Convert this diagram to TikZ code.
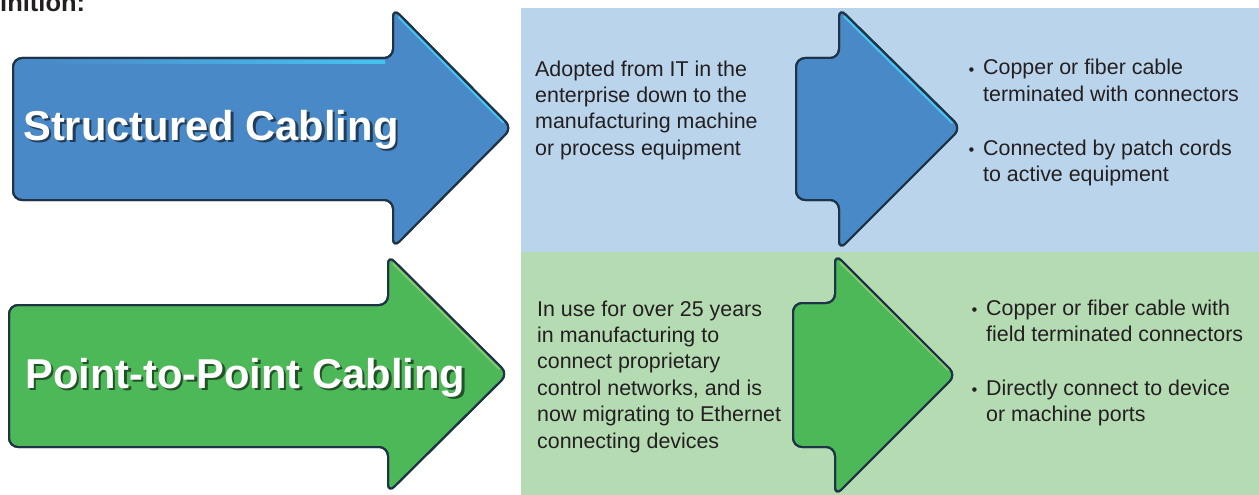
\documentclass[tikz,border=0pt]{standalone}
\usepackage{fontspec}
\setmainfont{Liberation Sans}
\definecolor{bluepanel}{HTML}{BAD4EC}
\definecolor{greenpanel}{HTML}{B5DBB3}
\definecolor{bluearrow}{HTML}{4A89C7}
\definecolor{greenarrow}{HTML}{4DB857}
\definecolor{outlinec}{HTML}{1E3446}
\definecolor{txt}{HTML}{231F20}
\definecolor{cyanhl}{HTML}{45C4F0}
\definecolor{greenhl}{HTML}{86C772}
\tikzset{
  arrowshape/.style={draw=outlinec, line width=2pt, rounded corners=9pt, line join=round},
  bodytext/.style={font=\fontsize{21.4}{26.4}\selectfont, text=txt, align=left, anchor=base west, inner sep=0pt},
  bullettext/.style={font=\fontsize{16.5}{16.5}\selectfont, text=txt, anchor=base west, inner sep=0pt},
  bigtext/.style={font=\bfseries\fontsize{41.7}{50}\selectfont, text=white, anchor=base west, inner sep=0pt},
  bigshadow/.style={font=\bfseries\fontsize{41.7}{50}\selectfont, text=black, text opacity=0.55, anchor=base west, inner sep=0pt},
  edgehl/.style={line width=2pt, line cap=round},
}
\begin{document}
\begin{tikzpicture}[x=1pt,y=-1pt]
\useasboundingbox (0,0) rectangle (1259,495);
% panels
\fill[bluepanel] (521,8) rectangle (1259,252);
\fill[greenpanel] (521,252) rectangle (1259,495);
% title fragment
\node[font=\bfseries\fontsize{25.5}{30}\selectfont, text=txt, anchor=base west, inner sep=0pt] (title) at (0,12) {inition:};
% big blue arrow
\path[arrowshape, fill=bluearrow] (13,58) -- (393,58) -- (393,8) -- (512,128) -- (393,248) -- (393,200) -- (13,200) -- cycle;
\shade[left color=bluearrow, middle color=white, right color=cyanhl] (40,61) rectangle (385,63.5);
\draw[edgehl, cyanhl] (398.5,17) -- (503.2,122.5);
\draw[draw=outlinec, line width=2pt, rounded corners=9pt, line join=round] (13,58) -- (393,58) -- (393,8) -- (512,128) -- (393,248) -- (393,200) -- (13,200) -- cycle;
\node[bigshadow] (s1) at (25.5,142.5) {Structured Cabling};
\node[bigtext] (t1) at (23,140) {Structured Cabling};
% big green arrow
\path[arrowshape, fill=greenarrow] (9,305) -- (388,305) -- (388,255) -- (508,374) -- (388,493) -- (388,447) -- (9,447) -- cycle;
\shade[left color=greenarrow, middle color=yellow!55!white, right color=greenarrow] (100,308) rectangle (300,310.5);
\draw[edgehl, greenhl] (393.3,263.8) -- (499.1,368.8);
\draw[draw=outlinec, line width=2pt, rounded corners=9pt, line join=round] (9,305) -- (388,305) -- (388,255) -- (508,374) -- (388,493) -- (388,447) -- (9,447) -- cycle;
\node[bigshadow] (s2) at (27.5,390.5) {Point-to-Point Cabling};
\node[bigtext] (t2) at (25,388) {Point-to-Point Cabling};
% small blue arrow
\path[arrowshape, fill=bluearrow] (796,58) -- (839,58) -- (839,8) -- (961,128) -- (839,250) -- (839,200) -- (796,200) -- cycle;
\draw[edgehl, cyanhl] (844.4,16.8) -- (952.1,122.8);
\draw[draw=outlinec, line width=2pt, rounded corners=9pt, line join=round] (796,58) -- (839,58) -- (839,8) -- (961,128) -- (839,250) -- (839,200) -- (796,200) -- cycle;
% small green arrow
\path[arrowshape, fill=greenarrow] (793,303) -- (835,303) -- (835,254) -- (956,375) -- (835,496) -- (835,447) -- (793,447) -- cycle;
\draw[edgehl, greenhl] (840.4,262.8) -- (948.2,369.8);
\draw[draw=outlinec, line width=2pt, rounded corners=9pt, line join=round] (793,303) -- (835,303) -- (835,254) -- (956,375) -- (835,496) -- (835,447) -- (793,447) -- cycle;
% middle texts (base anchor = last line)
\node[bodytext] (m1) at (535,155.2) {Adopted from IT in the\\enterprise down to the\\manufacturing machine\\or process equipment};
\node[bodytext] (m2) at (537,448) {In use for over 25 years\\in manufacturing to\\connect proprietary\\control networks, and is\\now migrating to Ethernet\\connecting devices};
% right texts
\node[bullettext] (b1) at (968.5,75.5) {•};
\node[bodytext] (r1) at (983,101.4) {Copper or fiber cable\\terminated with connectors};
\node[bullettext] (b2) at (968.5,155.5) {•};
\node[bodytext] (r2) at (983,181.4) {Connected by patch cords\\to active equipment};
\node[bullettext] (b3) at (971.5,315.5) {•};
\node[bodytext] (r3) at (986,341.4) {Copper or fiber cable with\\field terminated connectors};
\node[bullettext] (b4) at (971.5,395.5) {•};
\node[bodytext] (r4) at (986,421.4) {Directly connect to device\\or machine ports};
\end{tikzpicture}
\end{document}
